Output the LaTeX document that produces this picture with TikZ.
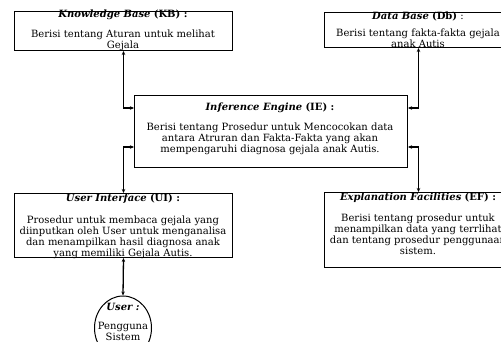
\documentclass[tikz,border=0pt]{standalone}
\usepackage{fontspec}
\setmainfont{DejaVu Serif}
\usetikzlibrary{arrows.meta,shapes.geometric}
\begin{document}
\begin{tikzpicture}[x=1pt,y=-1pt,
  box/.style={draw, line width=1pt, anchor=north west, inner sep=0pt},
  txt/.style={font=\fontsize{10}{11}\selectfont, align=center, inner sep=0pt},
  conn/.style={line width=1.3pt, {Stealth[length=4pt,width=3.5pt]}-{Stealth[length=4pt,width=3.5pt]}}
]
\useasboundingbox (0,0) rectangle (501,342);
% boxes
\node[box, minimum width=218pt, minimum height=39pt] (kb) at (14,11) {};
\node[box, minimum width=188pt, minimum height=35pt] (db) at (324,12) {};
\node[box, minimum width=273pt, minimum height=72pt] (ie) at (134,95) {};
\node[box, minimum width=218pt, minimum height=64pt] (ui) at (14,193) {};
\node[box, minimum width=188pt, minimum height=75pt] (ef) at (324,192) {};
\node[draw, line width=1pt, ellipse, minimum width=57pt, minimum height=64pt, inner sep=0pt] (user) at (123,328) {};
% texts
\node[txt] (kbT) at (123,15) {\textbf{\textit{Knowledge Base}} \textbf{(KB) :}};
\node[txt] (kbB) at (123,40.5) {Berisi tentang Aturan untuk melihat\\Gejala};
\node[txt] (dbT) at (418,16) {\textbf{\textit{Data Base}} \textbf{(Db)} :};
\node[txt] (dbB) at (418,38) {Berisi tentang fakta-fakta gejala\\anak Autis};
\node[txt] (ieT) at (270,108) {\textbf{\textit{Inference Engine}} \textbf{(IE) :}};
\node[txt] (ieB) at (270,139) {Berisi tentang Prosedur untuk Mencocokan data\\antara Atruran dan Fakta-Fakta yang akan\\mempengaruhi diagnosa gejala anak Autis.};
\node[txt] (uiT) at (123,199) {\textbf{\textit{User Interface}} \textbf{(UI) :}};
\node[txt] (uiB) at (123,237) {Prosedur untuk membaca gejala yang\\diinputkan oleh User untuk menganalisa\\dan menampilkan hasil diagnosa anak\\yang memiliki Gejala Autis.};
\node[txt] (efT) at (418,198) {\textbf{\textit{Explanation Facilities}} \textbf{(EF) :}};
\node[txt] (efB) at (418,234) {Berisi tentang prosedur untuk\\menampilkan data yang terrlihat\\dan tentang prosedur penggunaan\\sistem.};
\node[txt] (userT) at (123,307) {\textbf{\textit{User :}}};
\node[txt] (userB) at (123,331) {Pengguna\\Sistem};
% connectors
\draw[conn] (kb.south) |- ([yshift=-13pt]ie.north west);
\draw[conn] (db.south) |- ([yshift=-13pt]ie.north east);
\draw[conn] ([yshift=-52pt]ie.north west) -| (ui.north);
\draw[conn] ([yshift=-52pt]ie.north east) -| (ef.north);
\draw[conn] (ui.south) -- (user.north);
\end{tikzpicture}
\end{document}
